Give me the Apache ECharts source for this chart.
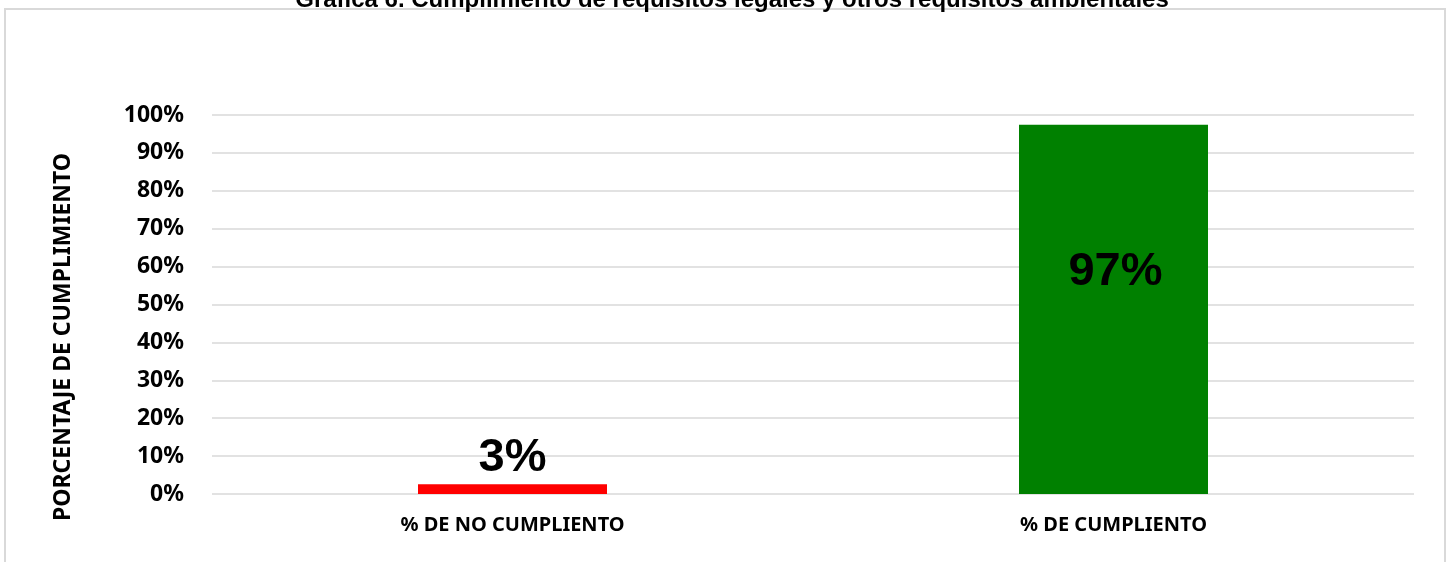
<!DOCTYPE html>
<html>
<head>
<meta charset="utf-8">
<script src="https://cdn.jsdelivr.net/npm/echarts@6/dist/echarts.min.js"></script>
<style>
  html, body { margin: 0; padding: 0; background: #fff; }
  #chart { width: 1447px; height: 562px; }
</style>
</head>
<body>
<div id="chart"></div>
<script>
// datos de la grafica
const categorias = ["% DE NO CUMPLIENTO", "% DE CUMPLIENTO"];
const valores = [2.6, 97.4];
const colores = ["#ff0000", "#008000"];
const titulo = "Grafica 6. Cumplimiento de requisitos legales y otros requisitos ambientales";
const nombreEje = "PORCENTAJE DE CUMPLIMIENTO";

const chart = echarts.init(document.getElementById("chart"));

const labelFont = {
  color: "#000",
  fontFamily: "Arial, 'Liberation Sans', sans-serif",
  fontWeight: "bold",
  fontSize: 47,
};

// cada barra con su color y su etiqueta
const datos = valores.map((v, i) => {
  const dentro = v > 50;
  return {
    value: v,
    itemStyle: { color: colores[i] },
    label: dentro
      ? { position: "inside", offset: [2, -37] }
      : { position: "top", distance: 3 },
  };
});

const option = {
  backgroundColor: "#fff",
  animation: false,
  title: {
    text: titulo,
    left: 727,
    textAlign: "center",
    top: -17,
    textStyle: {
      color: "#000",
      fontFamily: "Arial, 'Liberation Sans', sans-serif",
      fontWeight: "bold",
      fontSize: 24,
    },
  },
  graphic: [
    {
      type: "rect",
      z: -10,
      shape: { x: 5, y: 9, width: 1440, height: 580 },
      style: { fill: "none", stroke: "#d9d9d9", lineWidth: 2 },
      silent: true,
    },
    {
      type: "text",
      x: 63,
      y: 337,
      rotation: Math.PI / 2,
      style: {
        text: nombreEje,
        fill: "#000",
        font: "bold 23px 'Noto Sans', 'Open Sans', sans-serif",
        align: "center",
        verticalAlign: "middle",
      },
    },
  ],
  grid: {
    left: 212,
    right: 33,
    top: 115,
    bottom: 68,
    containLabel: false,
  },
  xAxis: {
    type: "category",
    data: categorias,
    axisLine: { show: false },
    axisTick: { show: false },
    axisLabel: {
      margin: 21,
      color: "#000",
      fontFamily: "'Noto Sans', 'Open Sans', sans-serif",
      fontWeight: "bold",
      fontSize: 20,
    },
  },
  yAxis: {
    type: "value",
    min: 0,
    max: 100,
    interval: 10,
    axisLine: { show: false },
    axisTick: { show: false },
    axisLabel: {
      margin: 28,
      color: "#000",
      fontFamily: "'Noto Sans', 'Open Sans', sans-serif",
      fontWeight: "bold",
      fontSize: 23,
      formatter: (v) => v + "%",
    },
    splitLine: { lineStyle: { color: "#d9d9d9", width: 1.5 } },
  },
  series: [
    {
      type: "bar",
      barWidth: 189,
      data: datos,
      label: {
        show: true,
        ...labelFont,
        formatter: (p) => Math.round(p.value) + "%",
      },
    },
  ],
};

chart.setOption(option);
</script>
</body>
</html>
